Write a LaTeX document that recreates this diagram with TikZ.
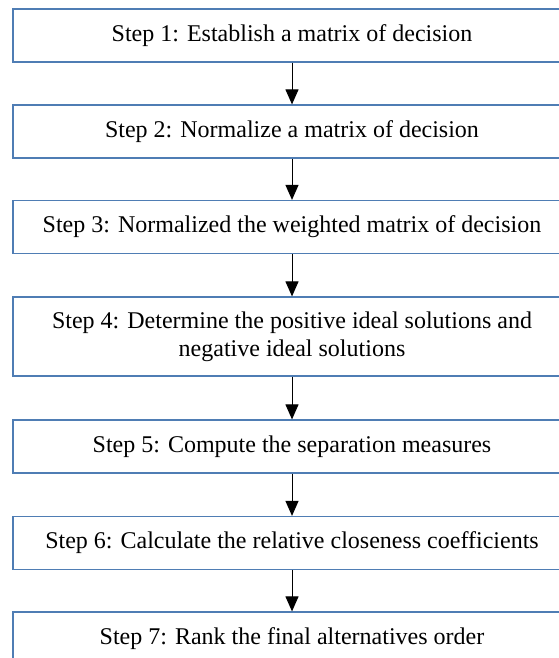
\documentclass[tikz,border=0pt]{standalone}
\usepackage{fontspec}
\setmainfont{Liberation Serif}
\usetikzlibrary{arrows.meta}
\definecolor{boxline}{RGB}{79,125,180}
\tikzset{
  stepbox/.style={draw=boxline, line width=1.2pt, rectangle, minimum width=558pt,
    minimum height=53pt, inner sep=0pt, align=center,
    font=\fontsize{24}{27.6}\selectfont, fill=white},
  flow/.style={draw=black, line width=1pt, -{Triangle[width=13pt,length=15pt]}}
}
\begin{document}
\begin{tikzpicture}[x=1pt,y=1pt]
\useasboundingbox (0,0) rectangle (559,-658);
\clip (0,0) rectangle (559,-658);
\fill[white] (0,0) rectangle (559,-658);
\node[stepbox] (s1) at (292,-35.5) {Step 1: Establish a matrix of decision};
\node[stepbox] (s2) at (292,-131.5) {Step 2: Normalize a matrix of decision};
\node[stepbox] (s3) at (292,-227) {Step 3: Normalized the weighted matrix of decision};
\node[stepbox, minimum height=79pt] (s4) at (292,-336.5) {Step 4: Determine the positive ideal solutions and\\negative ideal solutions};
\node[stepbox] (s5) at (292,-446.5) {Step 5: Compute the separation measures};
\node[stepbox] (s6) at (292,-543) {Step 6: Calculate the relative closeness coefficients};
\node[stepbox] (s7) at (292,-638.5) {Step 7: Rank the final alternatives order};
\draw[flow] (s1) -- (s2);
\draw[flow] (s2) -- (s3);
\draw[flow] (s3) -- (s4);
\draw[flow] (s4) -- (s5);
\draw[flow] (s5) -- (s6);
\draw[flow] (s6) -- (s7);
\end{tikzpicture}
\end{document}
